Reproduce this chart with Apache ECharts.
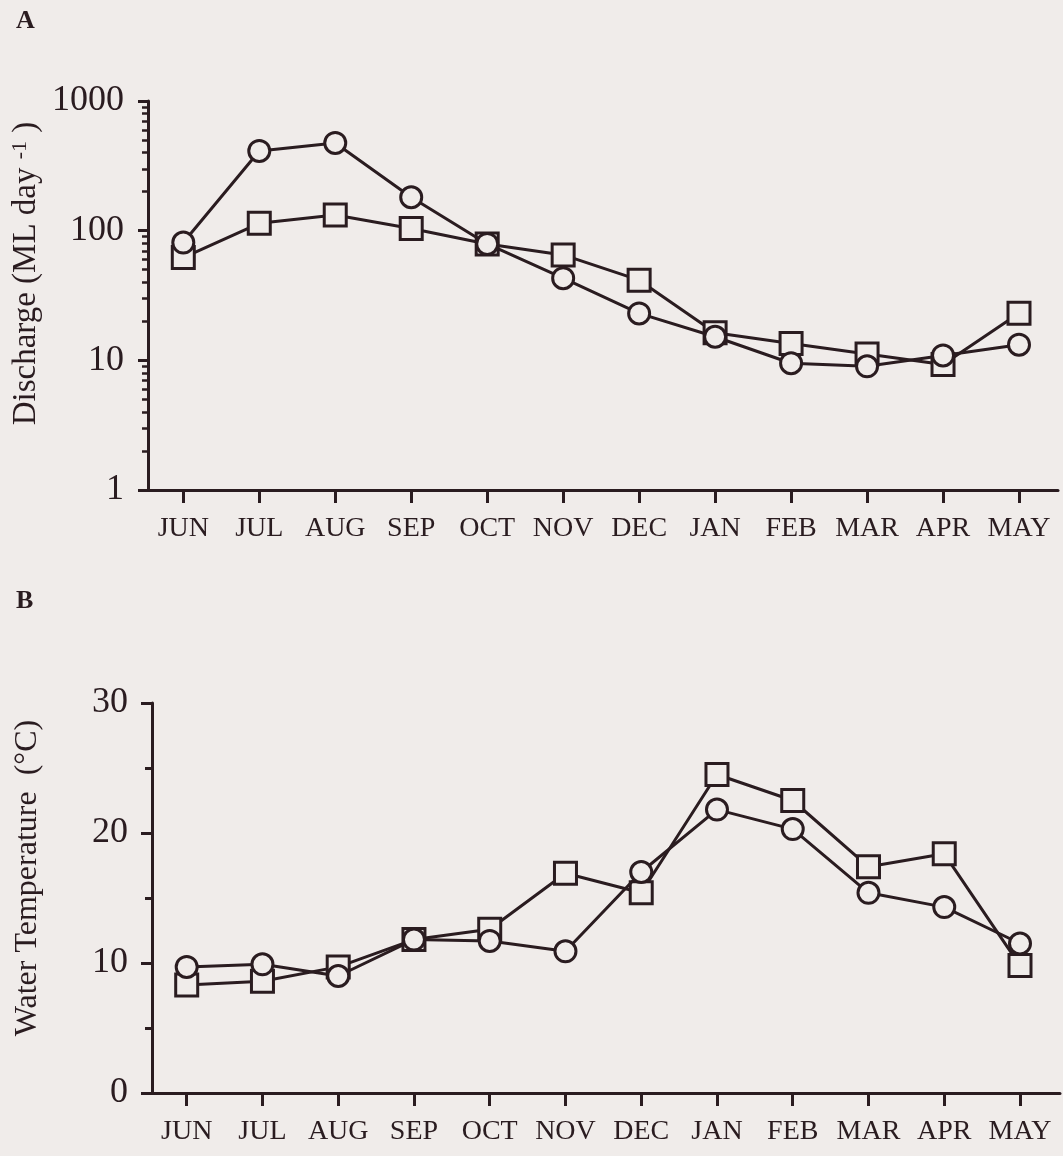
<!DOCTYPE html>
<html>
<head>
<meta charset="utf-8">
<script src="https://cdn.jsdelivr.net/npm/echarts@6/dist/echarts.min.js"></script>
<style>
html,body{margin:0;padding:0;background:#f0ecea;}
#chart{width:1063px;height:1156px;}
</style>
</head>
<body>
<div id="chart"></div>
<script>
const months = ['JUN','JUL','AUG','SEP','OCT','NOV','DEC','JAN','FEB','MAR','APR','MAY'];
const dischargeCircle = [81, 412, 475, 181, 79, 43, 23, 15.2, 9.5, 9.0, 10.9, 13.2];
const dischargeSquare = [62, 114, 132, 104, 79, 65, 41.5, 16.3, 13.5, 11.2, 9.3, 23.1];
const tempCircle = [9.7, 9.9, 9.0, 11.8, 11.7, 10.9, 17.0, 21.8, 20.3, 15.4, 14.3, 11.5];
const tempSquare = [8.3, 8.6, 9.7, 11.8, 12.6, 16.9, 15.4, 24.5, 22.5, 17.4, 18.4, 9.8];

const INK = '#2a1c20';
const BG = '#f0ecea';
const FONT = '"Liberation Serif", "Times New Roman", serif';

const chart = echarts.init(document.getElementById('chart'), null, {renderer: 'canvas'});

function frameX(gridIndex) {
  return {
    type: 'value', gridIndex: gridIndex, min: 0, max: 1,
    axisLine: {show: true, lineStyle: {color: INK, width: 3}},
    axisTick: {show: false}, axisLabel: {show: false}, splitLine: {show: false}
  };
}
function dataX(gridIndex) {
  return {
    type: 'category', gridIndex: gridIndex, data: months, boundaryGap: false,
    axisLine: {show: false},
    axisTick: {show: true, length: 13, lineStyle: {color: INK, width: 3}},
    axisLabel: {show: true, margin: 25, fontFamily: FONT, fontSize: 28, color: INK, interval: 0},
    splitLine: {show: false}
  };
}
const lineStyle = {color: INK, width: 3};
function seriesOf(name, data, symbol, size, xi, yi) {
  return {
    type: 'line', name: name, data: data, xAxisIndex: xi, yAxisIndex: yi,
    symbol: symbol, symbolSize: size, showAllSymbol: true,
    lineStyle: lineStyle,
    itemStyle: {color: BG, borderColor: INK, borderWidth: 3},
    emphasis: {disabled: true}, animation: false, z: symbol === 'circle' ? 3 : 2
  };
}
const plain = function (v) { return String(v); };

const option = {
  backgroundColor: BG,
  animation: false,
  title: [
    {text: 'A', left: 11, top: 3, textStyle: {fontFamily: FONT, fontWeight: 'bold', fontSize: 26, color: INK}},
    {text: 'B', left: 11, top: 583, textStyle: {fontFamily: FONT, fontWeight: 'bold', fontSize: 26, color: INK}}
  ],
  grid: [
    {left: 148, right: 5, top: 101, height: 389, outerBoundsMode: 'none'},
    {left: 183.3, right: 44, top: 101, height: 389, outerBoundsMode: 'none'},
    {left: 152, right: 3, top: 703, height: 390, outerBoundsMode: 'none'},
    {left: 186.7, right: 43, top: 703, height: 390, outerBoundsMode: 'none'}
  ],
  xAxis: [frameX(0), dataX(1), frameX(2), dataX(3)],
  yAxis: [
    {
      type: 'log', logBase: 10, gridIndex: 0, min: 1, max: 1000,
      axisLine: {show: true, lineStyle: {color: INK, width: 3}},
      axisTick: {show: true, length: 10, lineStyle: {color: INK, width: 3}},
      minorTick: {show: true, splitNumber: 9, length: 6, lineStyle: {color: INK, width: 2.5}},
      axisLabel: {show: true, margin: 24, fontFamily: FONT, fontSize: 36, color: INK, padding: [8,0,0,0], showMinLabel: true, showMaxLabel: true, formatter: plain},
      splitLine: {show: false}, minorSplitLine: {show: false},
      name: '{t|Discharge (ML day }{s|-1}{t| )}',
      nameLocation: 'middle', nameGap: 104, nameRotate: 90, nameMoveOverlap: false,
      nameTextStyle: {
        color: INK, fontFamily: FONT, fontSize: 33, padding: [0,0,0,44],
        rich: {
          t: {fontFamily: FONT, fontSize: 33, color: INK},
          s: {fontFamily: FONT, fontSize: 22, color: INK, padding: [0,0,13,0]}
        }
      }
    },
    {type: 'log', logBase: 10, gridIndex: 1, min: 1, max: 1000, show: false},
    {
      type: 'value', gridIndex: 2, min: 0, max: 30, interval: 10,
      axisLine: {show: true, lineStyle: {color: INK, width: 3}},
      axisTick: {show: true, length: 11, lineStyle: {color: INK, width: 3}},
      minorTick: {show: true, splitNumber: 2, length: 7, lineStyle: {color: INK, width: 3}},
      axisLabel: {show: true, margin: 24, fontFamily: FONT, fontSize: 36, color: INK, padding: [8,0,0,0], showMinLabel: true, showMaxLabel: true, formatter: plain},
      splitLine: {show: false}, minorSplitLine: {show: false},
      name: 'Water Temperature  (°C)',
      nameLocation: 'middle', nameGap: 108, nameRotate: 90, nameMoveOverlap: false,
      nameTextStyle: {color: INK, fontFamily: FONT, fontSize: 32, padding: [0,0,0,40]}
    },
    {type: 'value', gridIndex: 3, min: 0, max: 30, show: false}
  ],
  series: [
    seriesOf('Discharge square', dischargeSquare, 'rect', 22, 1, 1),
    seriesOf('Discharge circle', dischargeCircle, 'circle', 21, 1, 1),
    seriesOf('Temperature square', tempSquare, 'rect', 22, 3, 3),
    seriesOf('Temperature circle', tempCircle, 'circle', 21, 3, 3)
  ]
};
chart.setOption(option);
</script>
</body>
</html>
